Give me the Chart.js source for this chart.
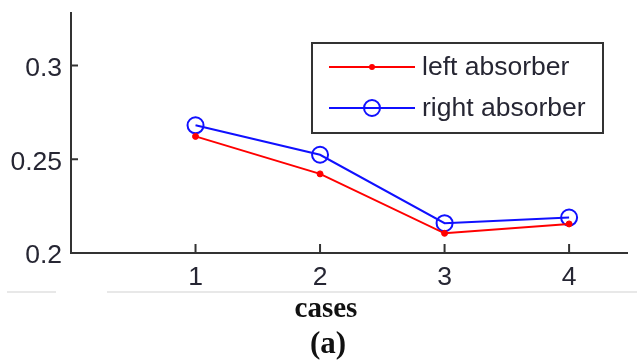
<!DOCTYPE html>
<html lang="en">
<head>
    <meta charset="UTF-8">
    <title>left / right absorber</title>
    <script src="https://cdn.jsdelivr.net/npm/chart.js"></script>
    <style>
        html, body {
            margin: 0;
            padding: 0;
            background: #fff;
        }
        .chart-container {
            position: relative;
            width: 637px;
            height: 364px;
        }
    </style>
</head>
<body>
    <div class="chart-container">
        <canvas id="absorberChart"></canvas>
    </div>

    <script>
        // data
        const cases = [1, 2, 3, 4];
        const leftAbsorber = [0.2622, 0.2422, 0.2105, 0.2155];
        const rightAbsorber = [0.2681, 0.2524, 0.2159, 0.2189];
        const xTicks = [1, 2, 3, 4];
        const yTicks = [0.2, 0.25, 0.3];
        const xTitle = 'cases';
        const caption = '(a)';

        const tickColor = '#262633';
        const axisColor = '#333333';
        const sansFont = '"Liberation Sans", Arial, sans-serif';
        const serifFont = '"Liberation Serif", "Times New Roman", serif';

        // inward tick marks, scan line, axis title, caption and the boxed legend
        const decorations = {
            id: 'decorations',
            afterDraw(chart) {
                const ctx = chart.ctx;
                const xs = chart.scales.x;
                const ys = chart.scales.y;
                const area = chart.chartArea;
                ctx.save();
                ctx.strokeStyle = axisColor;
                ctx.lineWidth = 2;
                xTicks.forEach(v => {
                    const px = xs.getPixelForValue(v);
                    ctx.beginPath();
                    ctx.moveTo(px, area.bottom);
                    ctx.lineTo(px, area.bottom - 9);
                    ctx.stroke();
                });
                yTicks.forEach(v => {
                    const py = ys.getPixelForValue(v);
                    ctx.beginPath();
                    ctx.moveTo(area.left, py);
                    ctx.lineTo(area.left + 7, py);
                    ctx.stroke();
                });

                // faint line from the scanned page
                ctx.strokeStyle = '#e8e8e8';
                ctx.lineWidth = 2;
                ctx.beginPath();
                ctx.moveTo(7, 292);
                ctx.lineTo(56, 292);
                ctx.moveTo(107, 292);
                ctx.lineTo(637, 292);
                ctx.stroke();

                // axis title and caption
                ctx.fillStyle = '#111';
                ctx.textAlign = 'center';
                ctx.textBaseline = 'alphabetic';
                ctx.font = 'bold 29px ' + serifFont;
                ctx.fillText(xTitle, 326, 317);
                ctx.font = 'bold 31px ' + serifFont;
                ctx.fillText(caption, 328, 353);

                // legend
                ctx.fillStyle = '#fff';
                ctx.fillRect(312, 43, 291, 90);
                ctx.strokeStyle = axisColor;
                ctx.lineWidth = 2;
                ctx.strokeRect(312, 43, 291, 90);
                const rows = [67, 108];
                chart.data.datasets.forEach((ds, i) => {
                    const y = rows[i];
                    ctx.strokeStyle = ds.borderColor;
                    ctx.lineWidth = ds.borderWidth;
                    ctx.beginPath();
                    ctx.moveTo(329, y);
                    ctx.lineTo(415, y);
                    ctx.stroke();
                    ctx.beginPath();
                    ctx.arc(372, y, ds.pointRadius, 0, Math.PI * 2);
                    if (ds.pointBackgroundColor !== 'transparent') {
                        ctx.fillStyle = ds.pointBackgroundColor;
                        ctx.fill();
                    } else {
                        ctx.lineWidth = ds.pointBorderWidth;
                        ctx.stroke();
                    }
                    ctx.fillStyle = tickColor;
                    ctx.font = '26.5px ' + sansFont;
                    ctx.textBaseline = 'middle';
                    ctx.textAlign = 'left';
                    ctx.fillText(ds.label, 422, y + 1);
                });
                ctx.restore();
            }
        };

        const ctx = document.getElementById('absorberChart').getContext('2d');
        new Chart(ctx, {
            type: 'line',
            data: {
                datasets: [{
                    label: 'left absorber',
                    data: cases.map((c, i) => ({ x: c, y: leftAbsorber[i] })),
                    borderColor: '#ff0000',
                    borderWidth: 2,
                    pointRadius: 3,
                    pointBackgroundColor: '#ff0000',
                    pointBorderColor: '#ff0000',
                    pointBorderWidth: 1,
                    tension: 0
                }, {
                    label: 'right absorber',
                    data: cases.map((c, i) => ({ x: c, y: rightAbsorber[i] })),
                    borderColor: '#1010ff',
                    borderWidth: 2,
                    pointRadius: 8,
                    pointBackgroundColor: 'transparent',
                    pointBorderColor: '#1010ff',
                    pointBorderWidth: 2,
                    tension: 0
                }]
            },
            options: {
                responsive: true,
                maintainAspectRatio: false,
                animation: false,
                layout: {
                    padding: { top: 13, left: 0, right: 0, bottom: 0 }
                },
                plugins: {
                    legend: { display: false },
                    tooltip: { enabled: false },
                    title: { display: false }
                },
                scales: {
                    x: {
                        type: 'linear',
                        min: 0,
                        max: 4.465,
                        afterBuildTicks: scale => {
                            scale.ticks = xTicks.map(v => ({ value: v }));
                        },
                        afterFit: scale => {
                            scale.height = 111;
                            scale.paddingLeft = 0;
                            scale.paddingRight = 0;
                        },
                        grid: { display: false, drawTicks: false },
                        border: { display: true, color: axisColor, width: 2 },
                        ticks: {
                            color: tickColor,
                            padding: 9,
                            maxRotation: 0,
                            font: { family: sansFont, size: 26.5 }
                        }
                    },
                    y: {
                        type: 'linear',
                        min: 0.2,
                        max: 0.328,
                        afterBuildTicks: scale => {
                            scale.ticks = yTicks.map(v => ({ value: v }));
                        },
                        afterFit: scale => {
                            scale.width = 71;
                            scale.paddingTop = 0;
                            scale.paddingBottom = 0;
                        },
                        grid: { display: false, drawTicks: false },
                        border: { display: true, color: axisColor, width: 2 },
                        ticks: {
                            color: tickColor,
                            padding: 9,
                            labelOffset: 3,
                            font: { family: sansFont, size: 26.5 },
                            callback: v => String(v)
                        }
                    }
                }
            },
            plugins: [decorations]
        });
    </script>
</body>
</html>
